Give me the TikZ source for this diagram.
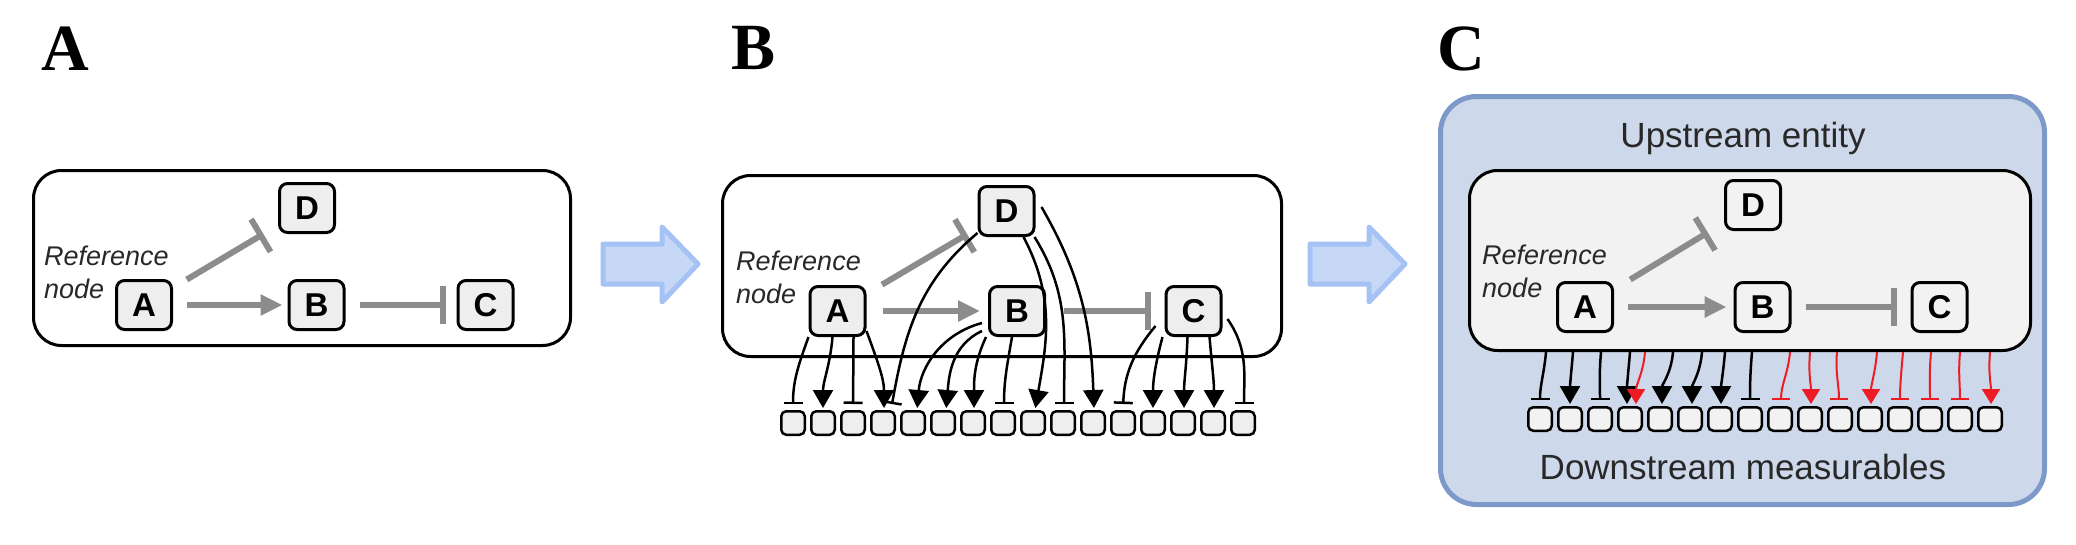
\documentclass[tikz,border=0pt]{standalone}
\usepackage{fontspec}
\setmainfont{Liberation Serif}
\setsansfont{Liberation Sans}
\usetikzlibrary{arrows.meta,calc}

\definecolor{netgray}{RGB}{140,140,140}
\definecolor{nodefill}{RGB}{238,238,238}
\definecolor{innerfill}{RGB}{242,242,242}
\definecolor{bluefill}{RGB}{205,216,234}
\definecolor{blueline}{RGB}{124,153,201}
\definecolor{arrowfill}{RGB}{199,216,247}
\definecolor{arrowline}{RGB}{164,194,244}
\definecolor{redline}{RGB}{237,28,36}
\definecolor{textgray}{RGB}{40,40,40}

\tikzset{
  netnode/.style={draw,line width=3pt,rounded corners=8pt,fill=nodefill,minimum width=55pt,minimum height=49pt,inner sep=0pt,font=\fontsize{33}{33}\sffamily\bfseries},
  panelbox/.style={draw,line width=3pt,rounded corners=28pt,fill=white,inner sep=0pt},
  measbox/.style={draw,line width=2.5pt,rounded corners=5pt,fill=nodefill,minimum width=23.5pt,minimum height=23.5pt,inner sep=0pt},
  actgray/.style={draw=netgray,line width=6pt,-{Triangle[length=22pt,width=20pt]}},
  inhgray/.style={draw=netgray,line width=6pt,-{Bar[width=38pt]}},
  actline/.style={line width=2.5pt,-{Triangle[length=18pt,width=20pt]},shorten >=2pt},
  inhline/.style={line width=2.5pt,-{Bar[width=19pt]},shorten >=6pt},
  redact/.style={draw=redline,line width=2pt,-{Triangle[length=15pt,width=18pt]},shorten >=2pt},
  redinh/.style={draw=redline,line width=2pt,-{Bar[width=18pt]},shorten >=6pt},
  reflabel/.style={anchor=north west,inner sep=0pt,align=left,text=textgray,font=\fontsize{27}{33}\sffamily\itshape},
  panellabel/.style={anchor=base west,inner sep=0pt,font=\fontsize{66}{66}\selectfont\bfseries},
  entitylabel/.style={anchor=base,inner sep=0pt,text=textgray,font=\fontsize{35}{35}\sffamily},
  bigarrow/.style={fill=arrowfill,draw=arrowline,line width=5pt,line join=round}
}

\begin{document}
\begin{tikzpicture}[x=1pt,y=-1pt]
\useasboundingbox (0,0) rectangle (2076,544);

% panel A: the network alone
\node[panellabel] (labA) at (41,70) {A};
\node[panelbox,minimum width=537pt,minimum height=175pt] (boxA) at (302,258) {};
\node[reflabel] (refA) at (44,246) {Reference\\node};
\node[netnode] (A1) at (144,305) {A};
\node[netnode] (B1) at (316.5,305) {B};
\node[netnode] (C1) at (485.5,305) {C};
\node[netnode] (D1) at (307,208) {D};
\draw[inhgray,shorten <=16pt,shorten >=17pt] (A1) -- (D1);
\draw[actgray,shorten <=14pt,shorten >=5pt] (A1) -- (B1);
\draw[inhgray,shorten <=14pt,shorten >=11pt] (B1) -- (C1);

% transition arrows
\draw[bigarrow] (603,244) -- (662,244) -- (662,227) -- (698,264) -- (662,302) -- (662,284) -- (603,284) -- cycle;
\draw[bigarrow,xshift=707pt] (603,244) -- (662,244) -- (662,227) -- (698,264) -- (662,302) -- (662,284) -- (603,284) -- cycle;

% panel B: every node acts on the measurables
\node[panellabel] (labB) at (731,69) {B};
\node[panelbox,minimum width=559pt,minimum height=181pt] (boxB) at (1002,266) {};
\node[reflabel] (refB) at (736,251) {Reference\\node};
\node[netnode] (A2) at (837.5,311) {A};
\node[netnode] (B2) at (1017,311) {B};
\node[netnode] (C2) at (1193.5,311) {C};
\node[netnode] (D2) at (1006.5,211) {D};
\foreach \i in {0,...,15}
  \node[measbox] (mb\i) at (793+30*\i,423) {};
\draw[inhgray,shorten <=18pt,shorten >=12pt] (A2) -- (D2);
\draw[actgray,shorten <=16pt,shorten >=8pt] (A2) -- (B2);
\draw[inhgray,shorten <=18pt,shorten >=14pt] (B2) -- (C2);
\draw[inhline] (A2.south west) to[out=-110,in=90] (mb0.north);
\draw[actline] ([xshift=-5pt]A2.south) to[out=-95,in=90] (mb1.north);
\draw[inhline] ([xshift=16pt]A2.south) -- (mb2.north);
\draw[actline] ([yshift=6pt]A2.south east) to[out=-70,in=90] ([xshift=1pt]mb3.north);
\draw[inhline] ([yshift=4pt]D2.south west) to[out=-140,in=80] ([xshift=8pt]mb3.north);
\draw[actline] ([xshift=-6pt,yshift=-12pt]B2.west) to[out=-165,in=85] ([xshift=4pt]mb4.north);
\draw[actline] ([xshift=-6pt,yshift=-20pt]B2.west) to[out=-155,in=85] ([xshift=3pt]mb5.north);
\draw[actline] ([xshift=-2pt]B2.south west) to[out=-115,in=90] ([xshift=1pt]mb6.north);
\draw[inhline] ([xshift=-5pt]B2.south) to[out=-100,in=90] ([xshift=1pt]mb7.north);
\draw[actline] ([xshift=-12pt]D2.south east) to[out=-62,in=80] ([xshift=2pt]mb8.north);
\draw[inhline] ([xshift=-1pt]D2.south east) to[out=-58,in=90] ([xshift=1pt]mb9.north);
\draw[actline] ([xshift=6pt,yshift=4pt]D2.east) to[out=-60,in=92] ([xshift=1pt]mb10.north);
\draw[inhline] ([xshift=-9pt,yshift=-15pt]C2.west) to[out=-130,in=88] (mb11.north);
\draw[actline] ([xshift=-2pt]C2.south west) to[out=-105,in=90] (mb12.north);
\draw[actline] ([xshift=-6pt]C2.south) to[out=-92,in=90] ([xshift=1pt]mb13.north);
\draw[actline] ([xshift=16pt]C2.south) to[out=-85,in=90] ([xshift=1pt]mb14.north);
\draw[inhline] ([xshift=5pt,yshift=-8pt]C2.east) to[out=-55,in=90] ([xshift=1pt]mb15.north);

% panel C: network as one upstream entity
\node[panellabel] (labC) at (1437,70) {C};
\draw[line width=5pt,draw=blueline,fill=bluefill,rounded corners=36pt] (1440.5,96.5) rectangle (2044.5,504.5);
\node[entitylabel] (upstream) at (1743,147) {Upstream entity};
\node[panelbox,fill=innerfill,minimum width=561pt,minimum height=180pt] (boxC) at (1750,260.5) {};
\node[reflabel] (refC) at (1482,245) {Reference\\node};
\node[netnode,fill=innerfill] (A3) at (1585,307) {A};
\node[netnode,fill=innerfill] (B3) at (1762.5,307) {B};
\node[netnode,fill=innerfill] (C3) at (1939.5,307) {C};
\node[netnode,fill=innerfill] (D3) at (1753,205) {D};
\draw[inhgray,shorten <=19pt,shorten >=19pt] (A3) -- (D3);
\draw[actgray,shorten <=14pt,shorten >=7pt] (A3) -- (B3);
\draw[inhgray,shorten <=14pt,shorten >=14pt] (B3) -- (C3);
\foreach \i in {0,...,15}
  \node[measbox,fill=innerfill] (mc\i) at (1540+30*\i,419) {};
\foreach \i/\a/\b/\s in {0/6/0/inhline,1/3/0/actline,2/1/0/inhline,3/0/-3/actline,3/15/6/redact,
    4/13/2/actline,5/12/2/actline,6/5/1/actline,7/2/0/inhline,8/10/1/redinh,9/0/1/redact,
    10/-3/-1/redinh,11/7/1/redact,12/3/0/redinh,13/1/0/redinh,14/0/0/redinh,15/0/1/redact}
  \draw[\s] ([xshift=\a pt]mc\i.north |- boxC.south) to[out=-95,in=90] ([xshift=\b pt]mc\i.north);
\node[entitylabel] (downstream) at (1743,479) {Downstream measurables};
\end{tikzpicture}
\end{document}
